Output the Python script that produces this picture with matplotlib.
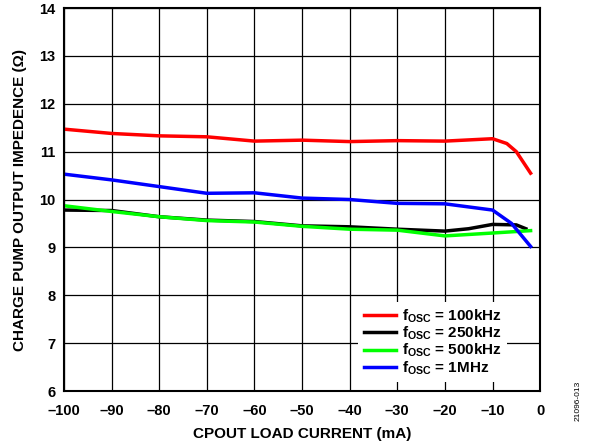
import numpy as np
import matplotlib.pyplot as plt

plt.rcParams['font.family'] = ['Liberation Sans', 'DejaVu Sans']
plt.rcParams['font.weight'] = 'bold'
plt.rcParams['mathtext.fontset'] = 'custom'
plt.rcParams['mathtext.rm'] = 'Liberation Sans:bold'
plt.rcParams['mathtext.it'] = 'Liberation Sans:bold'
plt.rcParams['mathtext.bf'] = 'Liberation Sans:bold'

# -----------------------------
# Data
# -----------------------------
x_red = [-100, -90, -80, -70, -60, -50, -40, -30, -20, -10, -7, -5, -2]
y_red = [11.47, 11.38, 11.33, 11.31, 11.22, 11.24, 11.21, 11.23, 11.22, 11.27, 11.17, 11.0, 10.55]

x_black = [-100, -90, -80, -70, -60, -50, -40, -30, -20, -15, -10, -5, -3]
y_black = [9.78, 9.77, 9.64, 9.57, 9.54, 9.45, 9.43, 9.38, 9.34, 9.39, 9.48, 9.47, 9.39]

x_green = [-100, -90, -80, -70, -60, -50, -40, -30, -20, -10, -2]
y_green = [9.87, 9.75, 9.64, 9.56, 9.53, 9.44, 9.38, 9.36, 9.24, 9.3, 9.35]

x_blue = [-100, -90, -80, -70, -60, -50, -40, -30, -20, -10, -6, -2]
y_blue = [10.53, 10.41, 10.27, 10.13, 10.14, 10.03, 10.0, 9.92, 9.91, 9.78, 9.5, 9.02]

labels = [r'$f_{OSC}$ = 100kHz', r'$f_{OSC}$ = 250kHz',
          r'$f_{OSC}$ = 500kHz', r'$f_{OSC}$ = 1MHz']

# -----------------------------
# Plot
# -----------------------------
fig = plt.figure(figsize=(5.89, 4.46), dpi=100)
ax = fig.add_axes([0.1087, 0.1233, 0.8083, 0.8587])

ax.plot(x_red, y_red, color='#ff0000', lw=2.5, label=labels[0])
ax.plot(x_black, y_black, color='#000000', lw=2.5, label=labels[1])
ax.plot(x_green, y_green, color='#00ff00', lw=2.5, label=labels[2])
ax.plot(x_blue, y_blue, color='#0000ff', lw=2.5, label=labels[3])

ax.set_xlim(-100, 0)
ax.set_ylim(6, 14)
ax.set_xticks(np.arange(-100, 1, 10))
ax.set_yticks(np.arange(6, 15, 1))
ax.set_xticklabels(['\u2013' + str(abs(v)) if v < 0 else '0' for v in range(-100, 1, 10)])
ax.tick_params(length=0, labelsize=10.5)
ax.tick_params(axis='x', pad=9)
ax.tick_params(axis='y', pad=6)
for s in ax.spines.values():
    s.set_linewidth(1.5)
ax.grid(True, color='black', lw=0.9)
ax.set_axisbelow(True)

ax.set_xlabel('CPOUT LOAD CURRENT (mA)', fontsize=11, fontweight='bold', labelpad=7)
ax.set_ylabel('CHARGE PUMP OUTPUT IMPEDENCE (\u03a9)', fontsize=11, fontweight='bold', labelpad=9)

leg = ax.legend(loc='lower left', bbox_to_anchor=(0.618, 0.023), borderaxespad=0,
                frameon=True, fontsize=11, handlelength=2.15, labelspacing=0.0,
                borderpad=0.35, handletextpad=0.35)
leg.get_frame().set_edgecolor('none')
leg.get_frame().set_facecolor('white')
leg.get_frame().set_alpha(1)
leg.get_frame().set_boxstyle('square', pad=0)

fig.text(0.981, 0.056, '21096-013', rotation=90, fontsize=6, fontweight='normal',
         ha='center', va='bottom')

fig.savefig('out.png', dpi=100)
